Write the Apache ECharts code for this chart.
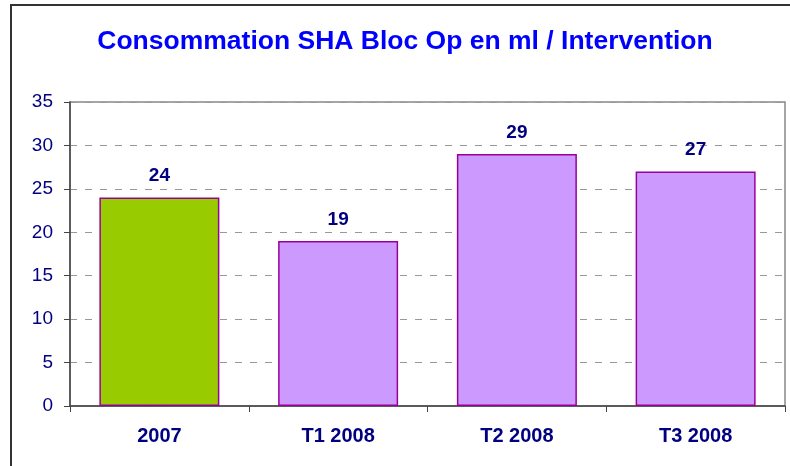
<!doctype html>
<html>
<head>
<meta charset="utf-8">
<title>Consommation SHA</title>
<style>
  html, body { margin: 0; padding: 0; background: #fff; }
  #chart { width: 790px; height: 466px; }
</style>
</head>
<body>
<div id="chart"></div>
<script src="https://cdn.jsdelivr.net/npm/echarts@6/dist/echarts.min.js"></script>
<script>
var categories = ['2007', 'T1 2008', 'T2 2008', 'T3 2008'];
var values = [24, 19, 29, 27];
var barColors = ['#99CC00', '#CC99FF', '#CC99FF', '#CC99FF'];

var chart = echarts.init(document.getElementById('chart'));
chart.setOption({
  animation: false,
  title: {
    text: 'Consommation SHA Bloc Op en ml / Intervention',
    left: 400,
    textAlign: 'center',
    top: 23,
    textStyle: { color: '#0000FF', fontFamily: 'Liberation Sans, Arial', fontWeight: 'bold', fontSize: 26.5 }
  },
  graphic: [{
    type: 'rect',
    shape: { x: 11, y: 5, width: 820, height: 520 },
    style: { fill: 'none', stroke: '#333', lineWidth: 2 }
  }],
  grid: {
    left: 70, top: 102, right: 5, bottom: 60,
    show: true, borderColor: '#888', borderWidth: 1.5, backgroundColor: 'transparent'
  },
  xAxis: {
    type: 'category',
    data: categories,
    axisLine: { lineStyle: { color: '#444', width: 1.5 } },
    axisTick: { show: true, length: 6, lineStyle: { color: '#444' } },
    axisLabel: { color: '#000080', fontWeight: 'bold', fontSize: 20, fontFamily: 'Liberation Sans, Arial', margin: 20 }
  },
  yAxis: {
    type: 'value',
    min: 0, max: 35, interval: 5,
    axisLine: { show: true, lineStyle: { color: '#444', width: 1.5 } },
    axisTick: { show: true, length: 6, lineStyle: { color: '#444' } },
    axisLabel: { color: '#000080', fontSize: 19, fontFamily: 'Liberation Sans, Arial', margin: 17 },
    splitLine: { lineStyle: { color: '#999', type: [7, 8] } }
  },
  series: [{
    type: 'bar',
    data: values.map(function (v, i) {
      return { value: v, itemStyle: { color: barColors[i] } };
    }),
    barWidth: 120,
    itemStyle: { borderColor: '#990099', borderWidth: 1.5 },
    label: {
      show: true, position: 'top', distance: 12,
      color: '#000080', fontWeight: 'bold', fontSize: 19, fontFamily: 'Liberation Sans, Arial'
    }
  }]
});
</script>
</body>
</html>
